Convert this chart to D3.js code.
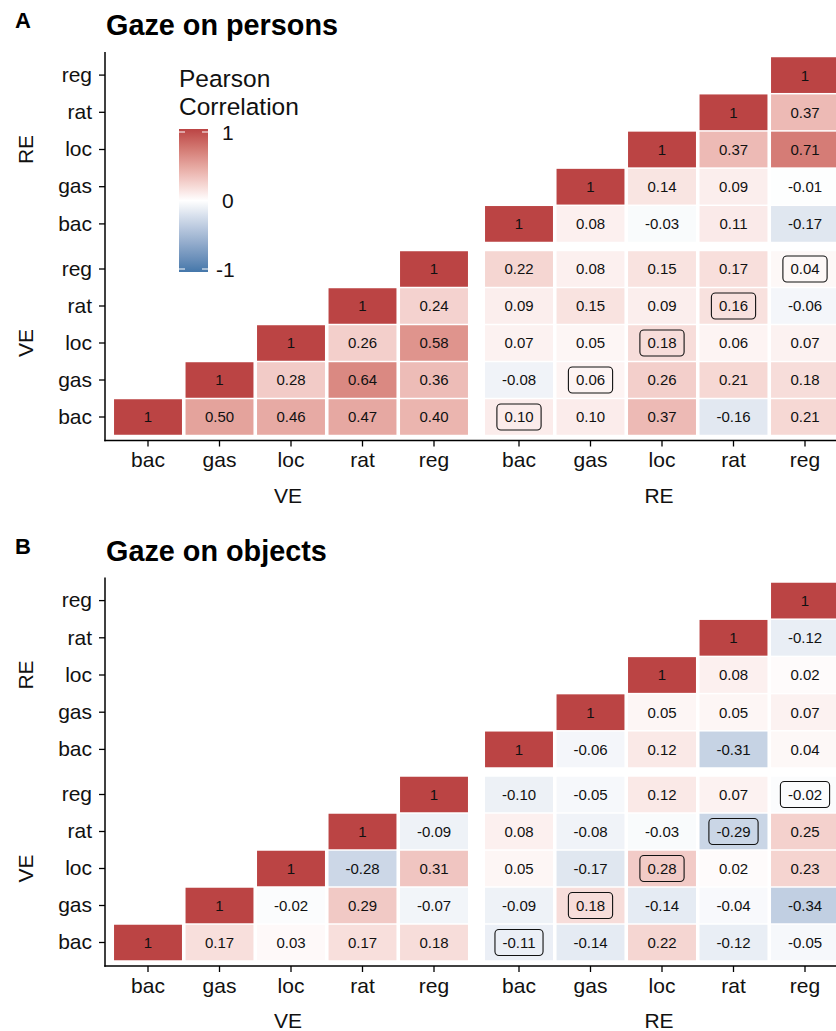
<!DOCTYPE html>
<html>
<head>
<meta charset="utf-8">
<script src="https://cdn.jsdelivr.net/npm/d3@7"></script>
<style>
  body { margin: 0; background: #fff; }
  text { font-family: "Liberation Sans", Arial, Helvetica, sans-serif; }
</style>
</head>
<body>
<svg id="chart" width="836" height="1031"></svg>
<script>
// variables and facet groups
var vars = ["bac", "gas", "loc", "rat", "reg"];
var groups = ["VE", "RE"];

// upper triangle, row by row: VE bac .. VE reg, RE bac .. RE reg
// each row starts at its own diagonal
var personsRows = [
  [1, 0.50, 0.46, 0.47, 0.40, 0.10, 0.10, 0.37, -0.16, 0.21],
  [1, 0.28, 0.64, 0.36, -0.08, 0.06, 0.26, 0.21, 0.18],
  [1, 0.26, 0.58, 0.07, 0.05, 0.18, 0.06, 0.07],
  [1, 0.24, 0.09, 0.15, 0.09, 0.16, -0.06],
  [1, 0.22, 0.08, 0.15, 0.17, 0.04],
  [1, 0.08, -0.03, 0.11, -0.17],
  [1, 0.14, 0.09, -0.01],
  [1, 0.37, 0.71],
  [1, 0.37],
  [1]
];

var objectsRows = [
  [1, 0.17, 0.03, 0.17, 0.18, -0.11, -0.14, 0.22, -0.12, -0.05],
  [1, -0.02, 0.29, -0.07, -0.09, 0.18, -0.14, -0.04, -0.34],
  [1, -0.28, 0.31, 0.05, -0.17, 0.28, 0.02, 0.23],
  [1, -0.09, 0.08, -0.08, -0.03, -0.29, 0.25],
  [1, -0.10, -0.05, 0.12, 0.07, -0.02],
  [1, -0.06, 0.12, -0.31, 0.04],
  [1, 0.05, 0.05, 0.07],
  [1, 0.08, 0.02],
  [1, -0.12],
  [1]
];

var legendTicks = [1, 0, -1];

var svg = d3.select("#chart");

var color = d3.scaleLinear()
  .domain([-1, 0, 1])
  .range(["#4477AA", "#FFFFFF", "#BB4444"])
  .interpolate(d3.interpolateLab);

// facet scales (x: VE left, RE right; y: RE top, VE bottom)
var xScales = {
  VE: d3.scaleBand().domain(vars).range([112.25, 469.75]).paddingInner(0.05).paddingOuter(0.025),
  RE: d3.scaleBand().domain(vars).range([483.25, 840.75]).paddingInner(0.05).paddingOuter(0.025)
};
var yScales = {
  RE: d3.scaleBand().domain(vars.slice().reverse()).range([56.5, 242.5]).paddingInner(0.04).paddingOuter(0.02),
  VE: d3.scaleBand().domain(vars.slice().reverse()).range([250.5, 435.5]).paddingInner(0.04).paddingOuter(0.02)
};

function fmt(v) {
  return v === 1 ? "1" : v.toFixed(2);
}

function buildCells(rows) {
  var cells = [];
  var all = [];
  groups.forEach(function(g) {
    vars.forEach(function(v) { all.push({ g: g, v: v }); });
  });
  rows.forEach(function(row, i) {
    row.forEach(function(val, k) {
      var j = i + k;
      cells.push({
        yg: all[i].g, yv: all[i].v,
        xg: all[j].g, xv: all[j].v,
        value: val,
        boxed: all[i].g === "VE" && all[j].g === "RE" && all[i].v === all[j].v
      });
    });
  });
  return cells;
}

function drawPanel(oy, letter, title, rows, withLegend) {
  var g = svg.append("g").attr("transform", "translate(0," + oy + ")");

  g.append("text").attr("x", 15).attr("y", 28)
    .attr("font-size", 22).attr("font-weight", "bold").text(letter);
  g.append("text").attr("x", 106).attr("y", 35)
    .attr("font-size", 28.8).attr("font-weight", "bold").text(title);

  var cells = buildCells(rows);

  var cell = g.selectAll(".cell").data(cells).enter()
    .append("g").attr("class", "cell")
    .attr("transform", function(d) {
      return "translate(" + (xScales[d.xg](d.xv) + xScales[d.xg].bandwidth() / 2) + "," +
        (yScales[d.yg](d.yv) + yScales[d.yg].bandwidth() / 2) + ")";
    });

  cell.append("rect")
    .attr("x", function(d) { return -xScales[d.xg].bandwidth() / 2; })
    .attr("y", function(d) { return -yScales[d.yg].bandwidth() / 2; })
    .attr("width", function(d) { return xScales[d.xg].bandwidth(); })
    .attr("height", function(d) { return yScales[d.yg].bandwidth(); })
    .attr("fill", function(d) { return color(d.value); });

  cell.append("text")
    .attr("text-anchor", "middle")
    .attr("dy", "0.36em")
    .attr("font-size", 15)
    .attr("fill", "#111")
    .text(function(d) { return fmt(d.value); });

  cell.filter(function(d) { return d.boxed; })
    .insert("rect", "text")
    .each(function() {
      var t = d3.select(this.parentNode).select("text").node().getComputedTextLength();
      d3.select(this)
        .attr("x", -t / 2 - 7.5).attr("width", t + 15)
        .attr("y", -13).attr("height", 26)
        .attr("rx", 4).attr("ry", 4)
        .attr("fill", "none").attr("stroke", "#111").attr("stroke-width", 1.1);
    });

  // axes
  groups.forEach(function(grp) {
    var ax = g.append("g").attr("transform", "translate(105,0)")
      .call(d3.axisLeft(yScales[grp]).tickSize(6).tickPadding(7));
    ax.select(".domain").remove();
    ax.selectAll("line").attr("stroke", "#000").attr("stroke-width", 1.3);
    ax.selectAll("text").attr("font-size", 21).attr("fill", "#111")
      .attr("font-family", "Liberation Sans, Arial, sans-serif");

    var bx = g.append("g").attr("transform", "translate(0,440.5)")
      .call(d3.axisBottom(xScales[grp]).tickSize(6).tickPadding(6));
    bx.select(".domain").remove();
    bx.selectAll("line").attr("stroke", "#000").attr("stroke-width", 1.3);
    bx.selectAll("text").attr("font-size", 21).attr("fill", "#111")
      .attr("font-family", "Liberation Sans, Arial, sans-serif");

    // facet strip titles
    var xs = xScales[grp].range();
    g.append("text").attr("x", (xs[0] + xs[1]) / 2 - 3).attr("y", 502.5)
      .attr("text-anchor", "middle").attr("font-size", 21).attr("fill", "#111").text(grp);
    var ys = yScales[grp].range();
    g.append("text")
      .attr("transform", "translate(33," + ((ys[0] + ys[1]) / 2) + ") rotate(-90)")
      .attr("text-anchor", "middle").attr("font-size", 21).attr("fill", "#111").text(grp);
  });

  g.append("line").attr("x1", 105).attr("x2", 105).attr("y1", 52).attr("y2", 441.2)
    .attr("stroke", "#000").attr("stroke-width", 1.5);
  g.append("line").attr("x1", 104.3).attr("x2", 836).attr("y1", 440.5).attr("y2", 440.5)
    .attr("stroke", "#000").attr("stroke-width", 1.5);

  if (withLegend) drawLegend(g);
}

function drawLegend(g) {
  var defs = svg.append("defs");
  var grad = defs.append("linearGradient").attr("id", "corrGrad")
    .attr("x1", 0).attr("y1", 0).attr("x2", 0).attr("y2", 1);
  d3.range(0, 1.0001, 0.05).forEach(function(t) {
    grad.append("stop").attr("offset", t).attr("stop-color", color(1 - 2 * t));
  });

  var ly = d3.scaleLinear().domain([1, -1]).range([132, 269]);

  g.append("text").attr("x", 179).attr("y", 87).attr("font-size", 24.5).attr("fill", "#111").text("Pearson");
  g.append("text").attr("x", 179).attr("y", 115).attr("font-size", 24.5).attr("fill", "#111").text("Correlation");

  g.append("rect").attr("x", 179).attr("y", 129).attr("width", 29).attr("height", 143)
    .attr("fill", "url(#corrGrad)");

  legendTicks.forEach(function(v) {
    if (v !== 0) {
      g.append("line").attr("x1", 179).attr("x2", 185).attr("y1", ly(v)).attr("y2", ly(v))
        .attr("stroke", "#fff").attr("stroke-width", 1);
      g.append("line").attr("x1", 202).attr("x2", 208).attr("y1", ly(v)).attr("y2", ly(v))
        .attr("stroke", "#fff").attr("stroke-width", 1);
    }
    g.append("text").attr("x", v < 0 ? 216 : 222).attr("y", ly(v)).attr("dy", "0.36em")
      .attr("font-size", 21).attr("fill", "#111").text(v);
  });
}

drawPanel(0, "A", "Gaze on persons", personsRows, true);
drawPanel(525.5, "B", "Gaze on objects", objectsRows, false);
</script>
</body>
</html>
